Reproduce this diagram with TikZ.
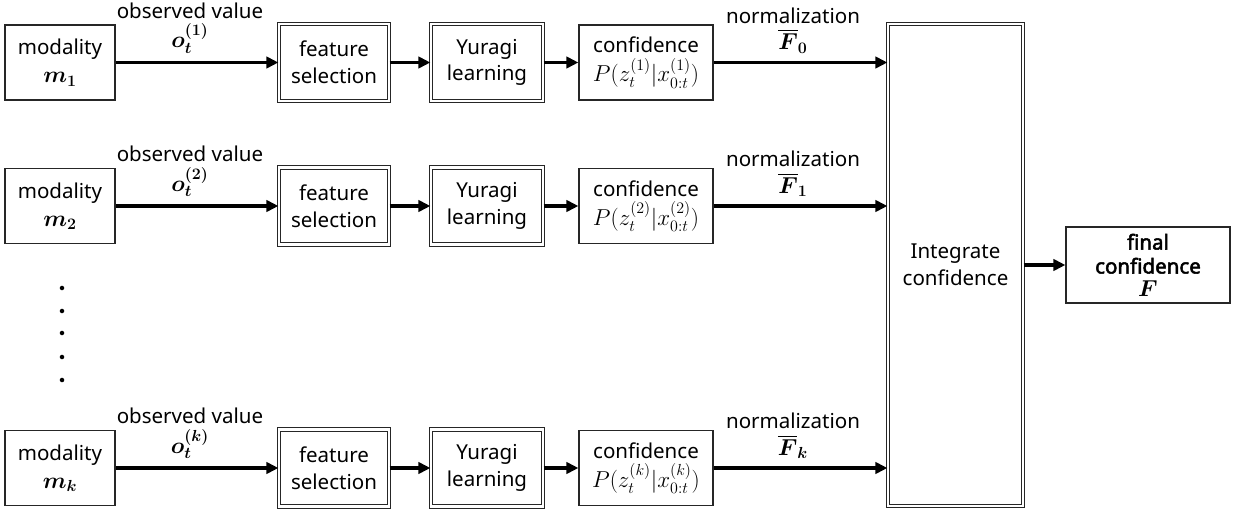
\documentclass[tikz,border=0pt]{standalone}
\usepackage{amsmath}
\usepackage{bm}
\usepackage{fontspec}
\setmainfont{Noto Sans}[AutoFakeBold=2.5]
\usetikzlibrary{arrows.meta}
\newcommand{\mfs}{\fontsize{17}{20}\selectfont}
\begin{document}
\begin{tikzpicture}[x=0.75pt,y=-0.75pt,
  every node/.style={font=\fontsize{15.4}{20}\selectfont, align=center, inner sep=0pt},
  sbox/.style={draw=black!85, line width=0.9pt, fill=white},
  dbox/.style={draw=black!85, line width=0.9pt, double=white, double distance=1.7pt},
  conn/.style={line width=2.6pt, -{Triangle[length=9pt,width=8.5pt]}},
  lbl/.style={font=\fontsize{15.4}{18}\selectfont}
]
\useasboundingbox (0,0) rectangle (1249,513);
% rows
\foreach \r/\y/\s/\f in {a/62.5/1/0, b/206/2/1, c/468/k/k}{
  \node[sbox, minimum width=110*0.75pt, minimum height=75*0.75pt] (mod\r) at (60,\y) {modality\\[1pt]{\mfs$\bm{m_{\s}}$}};
  \node[dbox, minimum width=110*0.75pt, minimum height=77*0.75pt] (fs\r) at (334,\y) {feature\\selection};
  \node[dbox, minimum width=112*0.75pt, minimum height=77*0.75pt] (yl\r) at (487,\y) {Yuragi\\learning};
  \node[sbox, minimum width=134*0.75pt, minimum height=75*0.75pt] (cf\r) at (646,\y) {confidence\\[2pt]{\mfs$P(z_t^{(\s)}|x_{0:t}^{(\s)})$}};
  \draw[conn] (mod\r) -- (fs\r);
  \draw[conn] (fs\r) -- (yl\r);
  \draw[conn] (yl\r) -- (cf\r);
  \node[lbl] (ov\r) at (190,\y-52) {observed value};
  \node (ol\r) at (190,\y-24) {\mfs$\bm{o_t^{(\s)}}$};
  \node[lbl] (nl\r) at (793,\y-47) {normalization};
  \node (fl\r) at (793,\y-21) {\mfs$\bm{\overline{F}_{\f}}$};
}
\node[dbox, minimum width=135*0.75pt, minimum height=482*0.75pt] (int) at (955.5,265) {Integrate\\confidence};
\node[sbox, minimum width=164*0.75pt, minimum height=76*0.75pt] (fin) at (1148,265) {\textbf{final}\\[-2pt]\textbf{confidence}\\[-3pt]{\mfs$\bm{F}$}};
\draw[conn] (cfa.east) -- (int.west |- cfa.east);
\draw[conn] (cfb.east) -- (int.west |- cfb.east);
\draw[conn] (cfc.east) -- (int.west |- cfc.east);
\draw[conn] (int) -- (fin);
% dots
\foreach \d/\yy in {1/288,2/311,3/333,4/357,5/380}{
  \fill (62,\yy) circle (1.7pt);
}
\end{tikzpicture}
\end{document}
